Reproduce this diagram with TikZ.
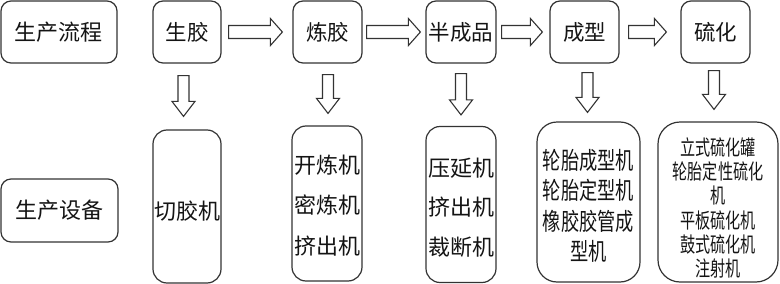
\documentclass[tikz,border=0pt]{standalone}
\usepackage{fontspec}
\usetikzlibrary{calc}
\newfontfamily\cjk{Noto Sans CJK SC}
\newfontfamily\cjkmid[FakeStretch=0.76]{Noto Sans CJK SC}
\newfontfamily\cjknarrow[FakeStretch=0.72]{Noto Sans CJK SC}
\definecolor{edge}{HTML}{333333}
\definecolor{ink}{HTML}{141414}
\tikzset{
  box/.style={draw=edge, line width=1.2pt, rounded corners=10pt, inner sep=0pt,
    text=ink, align=center, font=\cjk\fontsize{21.5}{24}\selectfont},
  tallbox/.style={box, rounded corners=14pt},
  txt/.style={inner sep=0pt, text=ink, align=center},
  arrowline/.style={draw=edge, line width=1.1pt, line join=miter, fill=white}
}
\newcommand\hblock[4]{%
  \draw[arrowline] let \p1=($(#1.east)+(#3,0)$), \p2=($(#2.west)+(-#4,0)$) in
    (\x1,\y1+6.5pt) -- (\x2-12pt,\y1+6.5pt) -- (\x2-12pt,\y1+13.5pt) -- (\x2,\y1)
    -- (\x2-12pt,\y1-13.5pt) -- (\x2-12pt,\y1-6.5pt) -- (\x1,\y1-6.5pt) -- cycle;}
\newcommand\vblock[5]{%
  \draw[arrowline] let \p1=($(#1.south)+(#3,#4)$), \p2=($(#2.north)+(#3,-#5)$) in
    (\x1-5.5pt,\y1) -- (\x1-5.5pt,\y2+15pt) -- (\x1-11.5pt,\y2+15pt) -- (\x1,\y2)
    -- (\x1+11.5pt,\y2+15pt) -- (\x1+5.5pt,\y2+15pt) -- (\x1+5.5pt,\y1) -- cycle;}
\begin{document}
\begin{tikzpicture}[x=1pt,y=-1pt]
\useasboundingbox (0,0) rectangle (780,284);
% top row
\node[box, minimum width=116, minimum height=62, font=\cjk\fontsize{22}{24}\selectfont] (p) at (59,32) {生产流程};
\node[box, minimum width=68, minimum height=62] (a) at (187,32) {生胶};
\node[box, minimum width=69, minimum height=62] (b) at (327.5,32) {炼胶};
\node[box, minimum width=70, minimum height=62] (c) at (461,32) {半成品};
\node[box, minimum width=69, minimum height=62] (d) at (584.5,32) {成型};
\node[box, minimum width=69, minimum height=62] (e) at (715.5,32) {硫化};
% bottom row
\node[box, minimum width=117, minimum height=63, font=\cjk\fontsize{22}{24}\selectfont] (q) at (59.5,210.5) {生产设备};
\node[tallbox, minimum width=68, minimum height=153] (a2) at (187,206.5) {};
\node[txt, font=\cjk\fontsize{22}{24}\selectfont] (a2t) at ($(a2.center)+(0,5)$) {切胶机};
\node[tallbox, minimum width=70, minimum height=155] (b2) at (327,203.5) {};
\node[txt, font=\cjk\fontsize{22}{40.5}\selectfont] (b2t) at ($(b2.center)+(0,2)$) {开炼机\\密炼机\\挤出机};
\node[tallbox, minimum width=70, minimum height=156] (c2) at (461,204.5) {};
\node[txt, font=\cjk\fontsize{22}{39.5}\selectfont] (c2t) at ($(c2.center)+(0,3)$) {压延机\\挤出机\\裁断机};
\node[tallbox, rounded corners=20pt, minimum width=103, minimum height=160] (d2) at (588.5,202) {};
\node[txt, font=\cjkmid\fontsize{24}{30.3}\selectfont] (d2t) at ($(d2.center)+(0,4)$) {轮胎成型机\\轮胎定型机\\橡胶胶管成\\型机};
\node[tallbox, rounded corners=22pt, minimum width=120, minimum height=160] (e2) at (718,202) {};
\node[txt, font=\cjknarrow\fontsize{21}{24.2}\selectfont] (e2t) at ($(e2.center)+(0,6)$) {立式硫化罐\\轮胎定性硫化\\机\\平板硫化机\\鼓式硫化机\\注射机};
% horizontal block arrows
\hblock{a}{b}{7}{10}
\hblock{b}{c}{4}{5}
\hblock{c}{d}{5}{7}
\hblock{d}{e}{9}{14}
% vertical block arrows
\vblock{a}{a2}{-3.5}{12}{13}
\vblock{b}{b2}{0.5}{11}{12}
\vblock{c}{c2}{0}{10}{11}
\vblock{d}{d2}{3}{9}{9}
\vblock{e}{e2}{-1.5}{7}{12}
\end{tikzpicture}
\end{document}
